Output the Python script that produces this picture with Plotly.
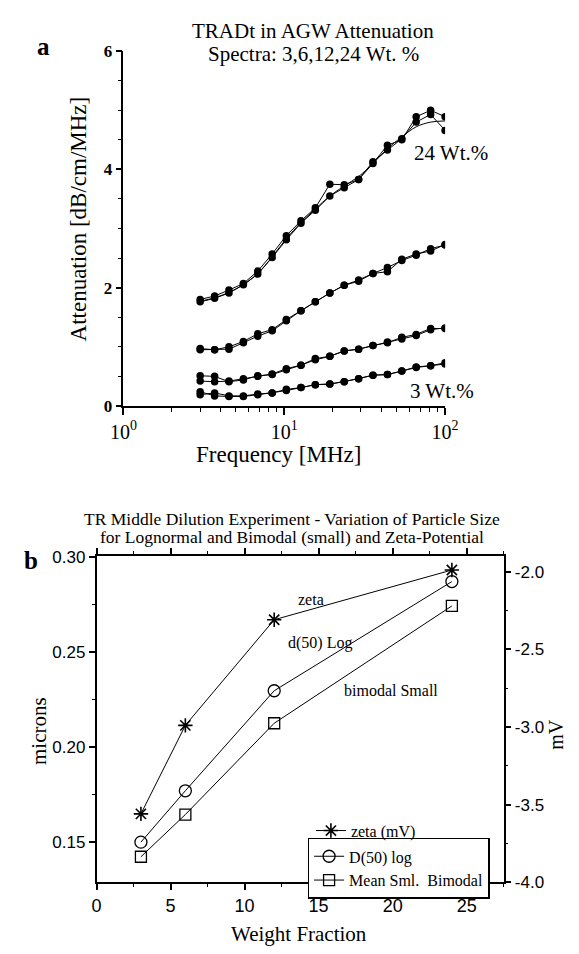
import plotly.graph_objects as go

W, H = 579, 954
def px(x): return x / W
def py(y): return 1 - y / H

SERIF = "Liberation Serif, Times New Roman, serif"
SANS = "Liberation Sans, Arial, sans-serif"

# ---------------- Panel a data ----------------
freq_mhz = [3.0, 3.69, 4.53, 5.57, 6.84, 8.41, 10.3, 12.7, 15.6, 19.2,
            23.6, 29.0, 35.6, 43.8, 53.8, 66.1, 81.3, 100.0]

att_24_a = [1.76, 1.82, 1.91, 2.05, 2.23, 2.51, 2.81, 3.09, 3.31, 3.55,
            3.69, 3.83, 4.13, 4.33, 4.52, 4.80, 4.93, 4.66]
att_24_b = [1.80, 1.86, 1.96, 2.07, 2.28, 2.57, 2.88, 3.13, 3.35, 3.75,
            3.74, 3.83, 4.10, 4.41, 4.50, 4.89, 5.00, 4.89]
att_24_fit = [1.77, 1.83, 1.92, 2.05, 2.24, 2.52, 2.83, 3.10, 3.33, 3.55,
              3.72, 3.88, 4.10, 4.35, 4.55, 4.72, 4.80, 4.82]

att_12_a = [0.95, 0.95, 0.96, 1.07, 1.18, 1.27, 1.44, 1.61, 1.76, 1.91,
            2.04, 2.11, 2.24, 2.27, 2.48, 2.57, 2.62, 2.73]
att_12_b = [0.97, 0.95, 1.00, 1.09, 1.22, 1.29, 1.46, 1.61, 1.76, 1.91,
            2.04, 2.13, 2.24, 2.34, 2.46, 2.55, 2.66, 2.72]

att_6_a = [0.51, 0.50, 0.41, 0.44, 0.51, 0.53, 0.61, 0.69, 0.80, 0.84,
           0.93, 0.96, 1.02, 1.07, 1.16, 1.21, 1.31, 1.31]
att_6_b = [0.42, 0.41, 0.42, 0.46, 0.50, 0.54, 0.63, 0.69, 0.78, 0.84,
           0.93, 0.96, 1.02, 1.08, 1.13, 1.19, 1.29, 1.32]

att_3_a = [0.24, 0.17, 0.16, 0.16, 0.19, 0.22, 0.26, 0.31, 0.36, 0.37,
           0.41, 0.46, 0.52, 0.53, 0.59, 0.66, 0.68, 0.71]
att_3_b = [0.19, 0.22, 0.17, 0.17, 0.20, 0.22, 0.28, 0.31, 0.36, 0.37,
           0.41, 0.46, 0.52, 0.53, 0.59, 0.65, 0.68, 0.73]

freq_tickvals = [1, 10, 100]
freq_ticktext = ["10<sup>0</sup>", "10<sup>1</sup>", "10<sup>2</sup>"]
freq_minor = [2, 3, 4, 5, 6, 7, 8, 9, 20, 30, 40, 50, 60, 70, 80, 90]

# ---------------- Panel b data ----------------
weight_fraction = [3, 6, 12, 24]
zeta_mv = [-3.56, -2.99, -2.31, -1.99]
d50_log = [0.150, 0.177, 0.2296, 0.287]
mean_sml_bimodal = [0.1423, 0.1645, 0.2125, 0.2742]

mv_tickvals = [-4.0, -3.5, -3.0, -2.5, -2.0]
mv_ticktext = ["-4.0", "-3.5", "-3.0", "-2.5", "-2.0"]

fig = go.Figure()

# Panel a traces
for series in [att_24_a, att_24_b, att_12_a, att_12_b, att_6_a, att_6_b, att_3_a, att_3_b]:
    fig.add_trace(go.Scatter(
        x=freq_mhz, y=series, mode="lines+markers", xaxis="x", yaxis="y",
        line=dict(color="black", width=1),
        marker=dict(symbol="circle", size=7.5, color="black"),
        showlegend=False, hoverinfo="skip"))
fig.add_trace(go.Scatter(
    x=freq_mhz, y=att_24_fit, mode="lines", xaxis="x", yaxis="y",
    line=dict(color="black", width=1, shape="spline"),
    showlegend=False, hoverinfo="skip"))

# Panel b traces
fig.add_trace(go.Scatter(
    x=weight_fraction, y=zeta_mv, mode="lines+markers", name="zeta (mV)",
    xaxis="x2", yaxis="y3", legend="legend2",
    line=dict(color="black", width=1),
    marker=dict(symbol="asterisk-open", size=12, color="black",
                line=dict(color="black", width=1.6))))
fig.add_trace(go.Scatter(
    x=weight_fraction, y=d50_log, mode="lines+markers", name="D(50) log",
    xaxis="x2", yaxis="y2",
    line=dict(color="black", width=1),
    marker=dict(symbol="circle-open", size=12, color="black",
                line=dict(color="black", width=1.3))))
fig.add_trace(go.Scatter(
    x=weight_fraction, y=mean_sml_bimodal, mode="lines+markers", name="Mean Sml.  Bimodal",
    xaxis="x2", yaxis="y2",
    line=dict(color="black", width=1),
    marker=dict(symbol="square-open", size=11, color="black",
                line=dict(color="black", width=1.3))))

axis_common = dict(showline=True, linecolor="black", linewidth=1.5, ticks="outside",
                   tickcolor="black", tickwidth=1.5, showgrid=False, zeroline=False)

fig.update_layout(
    width=W, height=H, margin=dict(l=0, r=0, t=0, b=0),
    paper_bgcolor="white", plot_bgcolor="white",
    xaxis=dict(type="log", range=[0, 2], domain=[px(115), px(453)], anchor="y",
               tickmode="array", tickvals=freq_tickvals, ticktext=freq_ticktext, ticklen=7,
               minor=dict(tickmode="array", tickvals=freq_minor, ticks="outside",
                          ticklen=4, tickcolor="black", tickwidth=1),
               tickfont=dict(family=SERIF, size=20, color="black"), **axis_common),
    yaxis=dict(range=[0, 6], domain=[py(405), py(43)], anchor="x",
               tickmode="linear", tick0=0, dtick=2, ticklen=6,
               minor=dict(dtick=0.5, ticks="outside", ticklen=4, tickcolor="black", tickwidth=1),
               tickfont=dict(family=SERIF, size=17, color="black", weight="bold"),
               **axis_common),
    xaxis2=dict(range=[0, 27.5], domain=[px(86.7), px(514.6)], anchor="y2",
                tickmode="linear", tick0=0, dtick=5, ticklen=6, mirror="ticks",
                minor=dict(dtick=2.5, ticks="outside", ticklen=3, tickcolor="black", tickwidth=1),
                tickfont=dict(family=SANS, size=18, color="black"), **axis_common),
    yaxis2=dict(range=[0.1289, 0.3005], domain=[py(891), py(558)], anchor="x2",
                tickmode="linear", tick0=0.15, dtick=0.05, tickformat=".2f", ticklen=6,
                minor=dict(dtick=0.025, ticks="outside", ticklen=3, tickcolor="black", tickwidth=1),
                tickfont=dict(family=SANS, size=17, color="black"), **axis_common),
    yaxis3=dict(range=[-4.0, -1.899], overlaying="y2", side="right", anchor="x2",
                tickmode="array", tickvals=mv_tickvals, ticktext=mv_ticktext, ticklen=6,
                minor=dict(tickmode="array", tickvals=[-3.75, -3.25, -2.75, -2.25],
                           ticks="outside", ticklen=3, tickcolor="black", tickwidth=1),
                tickfont=dict(family=SANS, size=17, color="black"), **axis_common),
    legend=dict(x=px(308.5), y=py(845.7), xanchor="left", yanchor="top",
                bordercolor="black", borderwidth=1.5, bgcolor="white",
                font=dict(family=SERIF, size=16, color="black"),
                itemwidth=30, tracegroupgap=0),
    legend2=dict(x=px(312), y=py(821), xanchor="left", yanchor="top",
                 borderwidth=0, bgcolor="rgba(0,0,0,0)",
                 font=dict(family=SERIF, size=16, color="black"), itemwidth=30),
)

def note(text, x, y, size, family=SERIF, angle=0, xanchor="center", bold=False):
    fig.add_annotation(text=f"<b>{text}</b>" if bold else text, xref="paper", yref="paper",
                       x=px(x), y=py(y), showarrow=False, textangle=angle,
                       xanchor=xanchor, yanchor="middle",
                       font=dict(family=family, size=size, color="black"))

# Panel a text
note("TRADt in AGW Attenuation", 314, 22, 21)
note("Spectra: 3,6,12,24 Wt. %", 315, 46, 21)
note("a", 31, 38, 25, bold=True)
note("Attenuation [dB/cm/MHz]", 68, 214, 23, angle=-90)
note("Frequency [MHz]", 278, 455, 23)
note("24 Wt.%", 418, 147, 21, xanchor="left")
note("3 Wt.%", 414, 390, 21, xanchor="left")

# Panel b text
note("TR Middle Dilution Experiment - Variation of Particle Size", 292, 520, 17.5)
note("for Lognormal and Bimodal (small) and Zeta-Potential", 292, 539, 17.5)
note("b", 18, 563, 25, bold=True)
note("microns", 27, 737, 21, angle=-90)
note("mV", 570, 740, 20, angle=-90)
note("Weight Fraction", 300, 944, 21)
note("zeta", 312, 603, 16)
note("d(50) Log", 322, 647, 16)
note("bimodal Small", 396, 695, 16)

fig.write_html("out.html")
